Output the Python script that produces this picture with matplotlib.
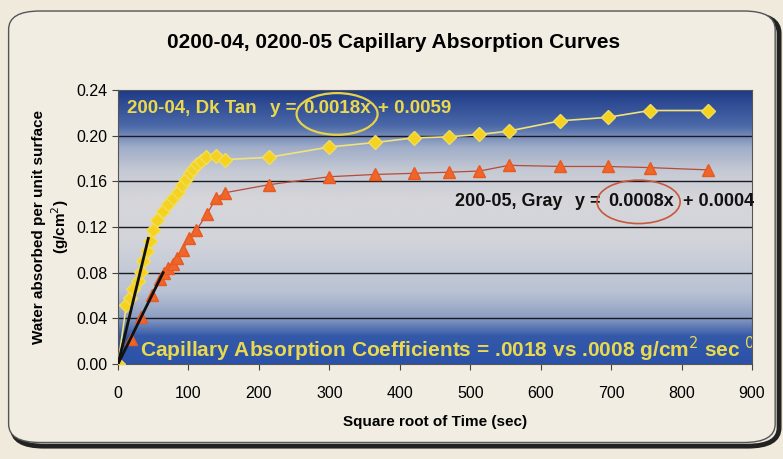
import numpy as np
import matplotlib.pyplot as plt
from matplotlib.colors import LinearSegmentedColormap
from matplotlib.patches import FancyBboxPatch, Ellipse

# 200-04, Dk Tan
x04 = [0, 12, 17, 22, 28, 32, 36, 41, 45, 50, 56, 64, 71, 78, 85, 91, 97,
       102, 107, 112, 118, 125, 139, 152, 214, 300, 365, 420, 470, 513, 555,
       628, 695, 755, 838]
y04 = [0.0, 0.052, 0.058, 0.066, 0.073, 0.081, 0.090, 0.099, 0.108, 0.117,
       0.126, 0.134, 0.140, 0.145, 0.151, 0.157, 0.162, 0.167, 0.171, 0.175,
       0.178, 0.181, 0.182, 0.179, 0.181, 0.190, 0.194, 0.198, 0.199, 0.201,
       0.204, 0.213, 0.216, 0.222, 0.222]

# 200-05, Gray
x05 = [0, 18, 33, 48, 60, 66, 71, 78, 84, 92, 101, 111, 126, 139, 152, 214,
       300, 365, 420, 470, 513, 555, 628, 695, 755, 838]
y05 = [0.0, 0.022, 0.041, 0.060, 0.074, 0.080, 0.084, 0.088, 0.093, 0.100,
       0.110, 0.117, 0.131, 0.145, 0.150, 0.157, 0.164, 0.166, 0.167, 0.168,
       0.169, 0.174, 0.173, 0.173, 0.172, 0.170]

# hand drawn tangent lines
tan04 = ([0, 43], [0.0, 0.110])
tan05 = ([0, 64], [0.0, 0.080])

# trend line labels, split so the spacing follows the original
label04 = ['200-04, Dk Tan', 'y =', '0.0018x', '+ 0.0059']
label04_x = [13, 216, 263, 369]
label05 = ['200-05, Gray', 'y =', '0.0008x', '+ 0.0004']
label05_x = [479, 649, 696, 802]

xticks = np.arange(0, 901, 100)
yticks = [0.00, 0.04, 0.08, 0.12, 0.16, 0.20, 0.24]

plt.rcParams['font.family'] = ['Liberation Sans', 'DejaVu Sans']

fig = plt.figure(figsize=(7.83, 4.59), dpi=100)
fig.patch.set_facecolor('#efeadc')

# rounded frame with shadow
shadow = FancyBboxPatch((0.016, 0.028), 0.979, 0.94, boxstyle='round,pad=0,rounding_size=0.04',
                        transform=fig.transFigure, facecolor='none', edgecolor='#222222',
                        linewidth=3.5, zorder=-2)
frame = FancyBboxPatch((0.011, 0.036), 0.979, 0.94, boxstyle='round,pad=0,rounding_size=0.04',
                       transform=fig.transFigure, facecolor='#f1ede2', edgecolor='#555555',
                       linewidth=1.0, zorder=-1)
fig.add_artist(shadow)
fig.add_artist(frame)

ax = fig.add_axes([0.1507, 0.207, 0.8097, 0.597])
ax.set_zorder(2)

# background gradient of the plot area
cmap = LinearSegmentedColormap.from_list('bg', [
    (0.00, '#2b52a8'), (0.10, '#3459a8'), (0.17, '#8e9fc2'), (0.26, '#b9c2d4'),
    (0.45, '#d2d4da'), (0.60, '#d6d6da'), (0.70, '#c6cad4'), (0.79, '#9fadc8'),
    (0.87, '#4a68a8'), (1.00, '#1e3a88')])
grad = np.linspace(0, 1, 256).reshape(-1, 1)
ax.imshow(grad, extent=[0, 900, 0, 0.24], origin='lower', aspect='auto',
          cmap=cmap, zorder=0)

for yv in yticks[1:-1]:
    ax.axhline(yv, color='#1a1a22', linewidth=1.0, zorder=1)

ax.plot(x05, y05, color='#b84a38', linewidth=0.9, zorder=2)
ax.plot(x05, y05, linestyle='none', marker='^', markersize=8,
        color='#f0652a', markeredgecolor='#e85a20', zorder=3)
ax.plot(x04, y04, color='#f2e27a', linewidth=1.2, zorder=4)
ax.plot(x04, y04, linestyle='none', marker='D', markersize=7,
        color='#f5d21e', markeredgecolor='#f0dc60', zorder=5)

ax.plot(*tan04, color='#111111', linewidth=2, zorder=6)
ax.plot(*tan05, color='#111111', linewidth=2, zorder=6)

for s, xp in zip(label04, label04_x):
    ax.text(xp, 0.2235, s, color='#ead94e', fontsize=13.5, fontweight='bold',
            va='center', zorder=7)
ax.add_patch(Ellipse((311, 0.219), 115, 0.0365, facecolor='none',
                     edgecolor='#e6d24a', linewidth=1.6, zorder=7))

for s, xp in zip(label05, label05_x):
    ax.text(xp, 0.1425, s, color='#111111', fontsize=13, fontweight='bold',
            va='center', zorder=7, clip_on=False)
ax.add_patch(Ellipse((739, 0.142), 118, 0.038, facecolor='none',
                     edgecolor='#c8583c', linewidth=1.2, zorder=7))

ax.text(31, 0.0125, 'Capillary Absorption Coefficients = .0018 vs .0008 g/cm$^2$ sec $^{0.5}$',
        color='#ead94e', fontsize=15, fontweight='bold',
        va='center', zorder=7, clip_on=True)

ax.set_xlim(0, 900)
ax.set_ylim(0, 0.24)
ax.set_xticks(xticks)
ax.set_yticks(yticks)
ax.set_yticklabels(['%.2f' % v for v in yticks])
ax.tick_params(axis='both', labelsize=11.5, color='#444444', length=4, direction='out')
ax.tick_params(axis='x', pad=12)
for s in ax.spines.values():
    s.set_color('#555555')
    s.set_linewidth(0.8)

ax.set_xlabel('Square root of Time (sec)', fontsize=11, fontweight='bold', labelpad=10)
ax.set_ylabel('Water absorbed per unit surface\n(g/cm$^2$)', fontsize=11,
              fontweight='bold', labelpad=4)

fig.text(0.502, 0.907, '0200-04, 0200-05 Capillary Absorption Curves',
         ha='center', va='center', fontsize=15, fontweight='bold')

fig.savefig('out.png', dpi=100, facecolor=fig.get_facecolor())
